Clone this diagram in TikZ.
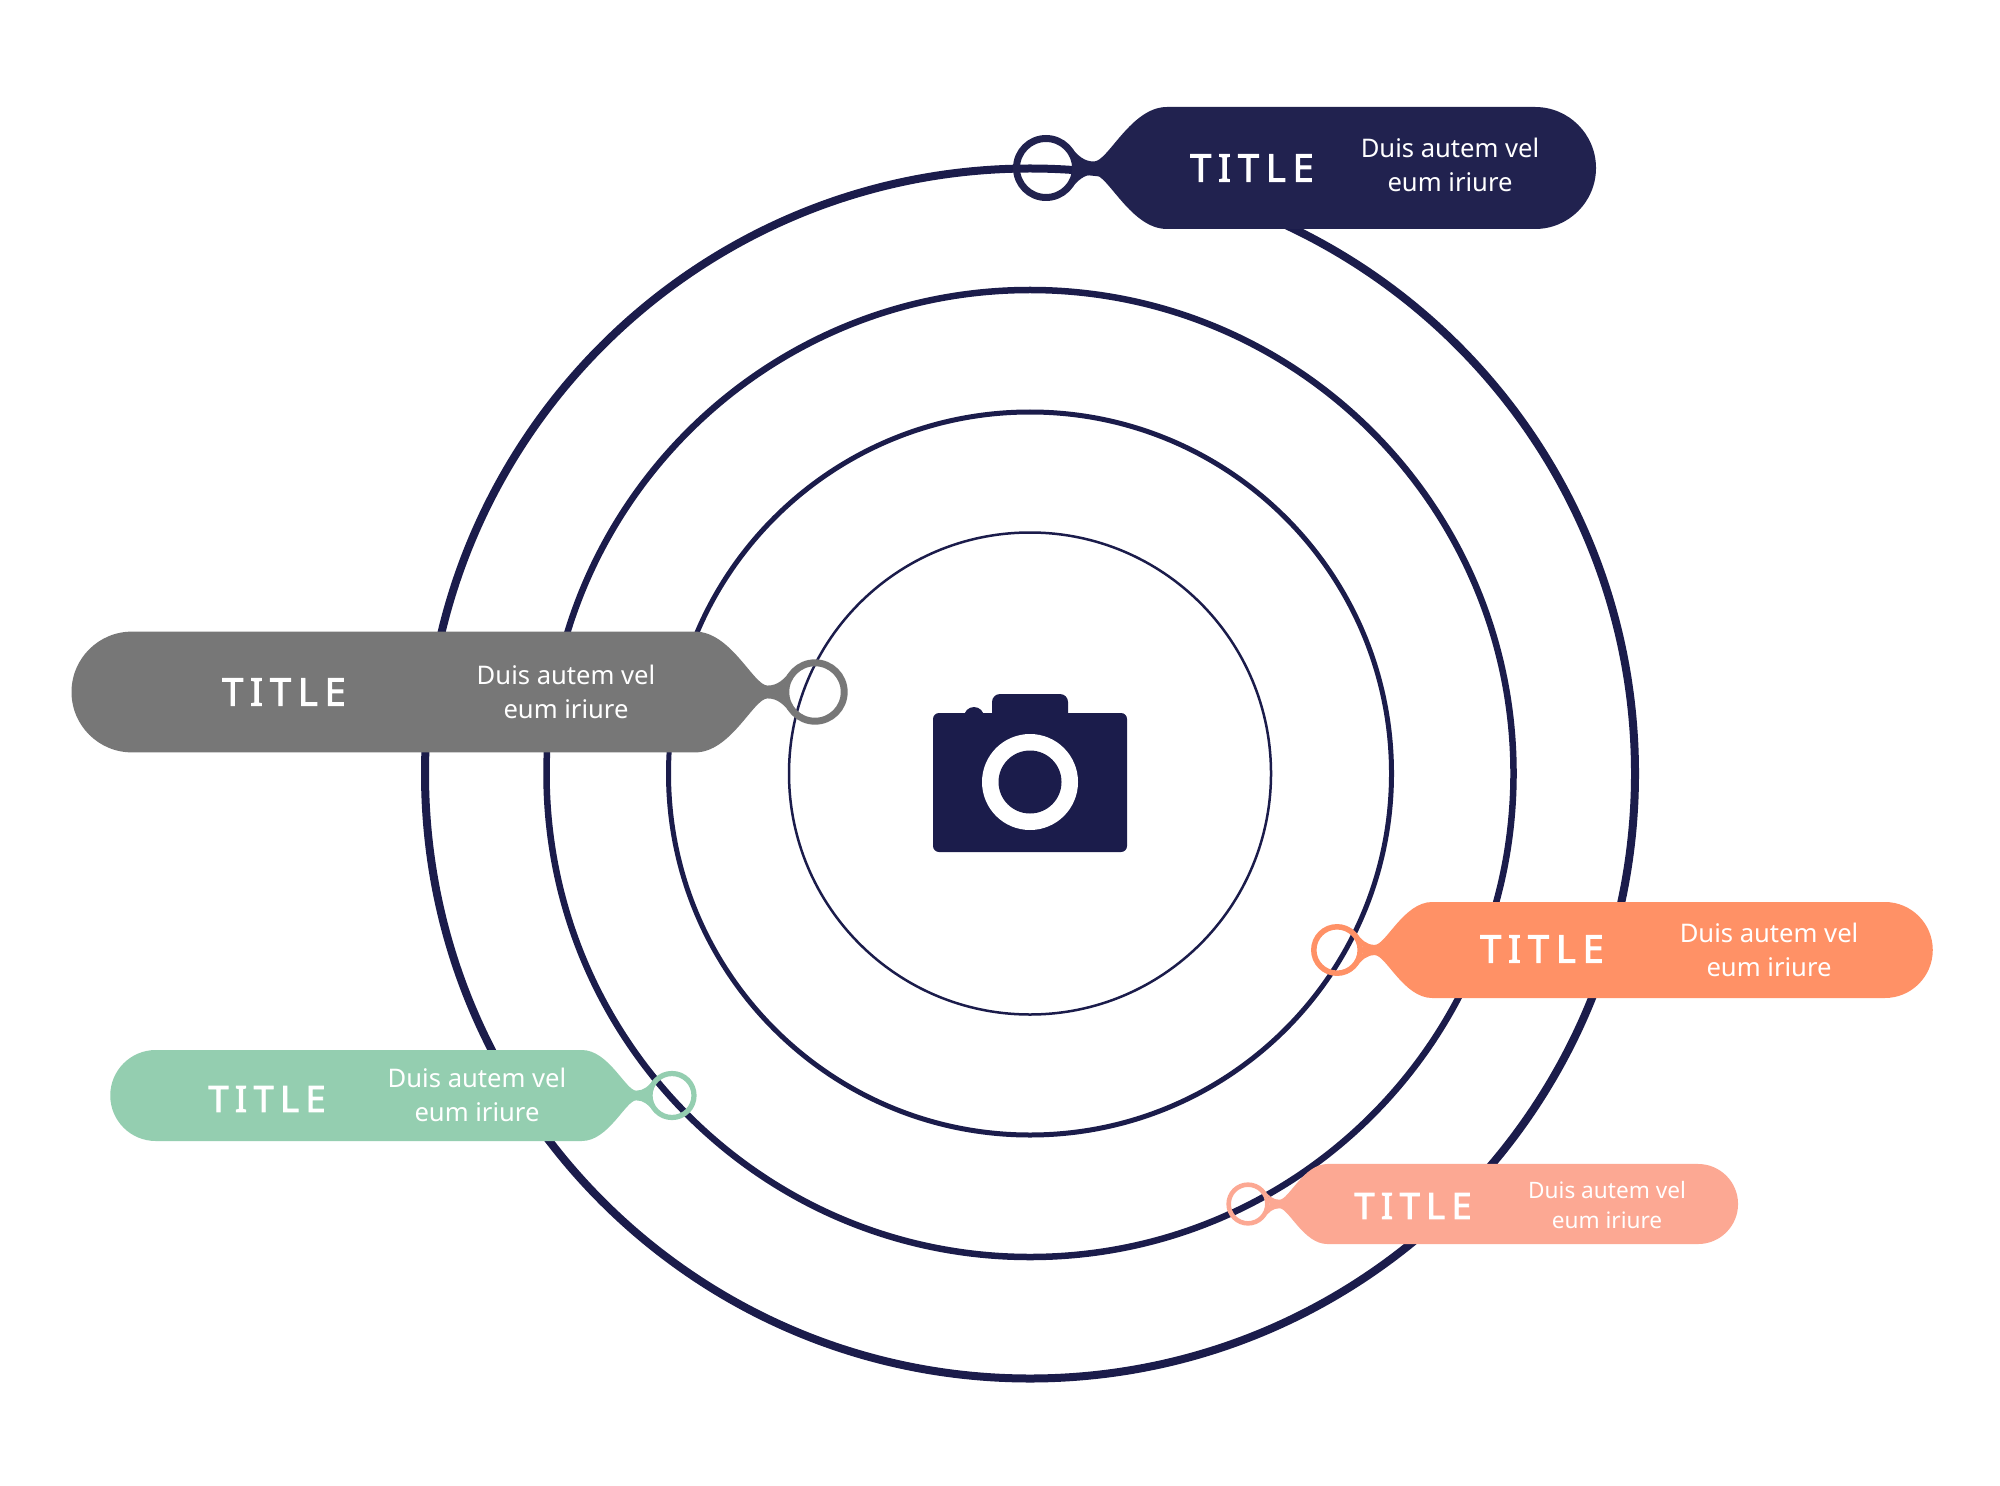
\documentclass[tikz,border=0pt]{standalone}
\usepackage{fontspec}
\setmainfont{Noto Sans}
\newfontfamily\titlefont[LetterSpace=18,FakeBold=2.5]{Noto Sans}
\usepackage{tikz}

\definecolor{navy}{HTML}{1B1C4B}
\definecolor{navytag}{HTML}{21224F}
\definecolor{greytag}{HTML}{777777}
\definecolor{orangetag}{HTML}{FF9166}
\definecolor{greentag}{HTML}{94CEB0}
\definecolor{salmontag}{HTML}{FCA893}

\begin{document}
\begin{tikzpicture}[x=0.5pt,y=-0.5pt,
    title/.style={text=white,font=\titlefont\fontsize{19}{19}\selectfont},
    small title/.style={title,font=\titlefont\fontsize{18}{18}\selectfont},
    desc/.style={text=white,align=center,font=\fontsize{12.8}{17}\selectfont},
    small desc/.style={desc,font=\fontsize{11.3}{15}\selectfont}]
\fill[white] (0,0) rectangle (2000,1486);
\useasboundingbox (0,0) rectangle (2000,1486);

% orbits
\foreach \r/\w in {605/4,483.5/3.25,361.5/2.5,241/1.25}
    \draw[navy,line width=\w pt] (1030,773.5) circle [radius=\r];

% tags: ring centre, scale, direction, length, colour
\foreach \cx/\cy/\s/\d/\L/\col in {1046/168/1/1/550/navytag,
    815/692/0.99/-1/751/greytag, 1337/950/0.787/1/757/orangetag,
    672/1095.5/0.746/-1/753/greentag, 1248/1204/0.656/1/747/salmontag}
{
\begin{scope}[shift={(\cx,\cy)},xscale=\d*\s,yscale=\s]
\fill[\col] (24,-22) .. controls (32,-12) and (38,-6.5) .. (48,-6.5)
    .. controls (62,-6.5) and (85,-61) .. (121,-61) -- (\L-61,-61)
    arc [start angle=-90,end angle=90,radius=61] -- (121,61)
    .. controls (85,61) and (62,6.5) .. (48,6.5)
    .. controls (38,6.5) and (32,12) .. (24,22)
    arc [start angle=42.5,end angle=-42.5,radius=32.5] -- cycle;
\draw[\col,line width=\s*3.5pt] (0,0) circle [radius=29.5];
\end{scope}
}

% camera
\fill[navy,rounded corners=4pt] (992,694) rectangle (1068,725);
\fill[navy] (974,717) circle [radius=10];
\fill[navy,rounded corners=3pt] (933,713) rectangle (1127,852);
\fill[white] (1030,782) circle [radius=48];
\fill[navy] (1030,782) circle [radius=31.5];

% texts
\node[title] (t1) at (1252,168) {TITLE};
\node[desc] (d1) at (1450,165) {Duis autem vel\\eum iriure};
\node[title] (t2) at (284,692) {TITLE};
\node[desc] (d2) at (566,692) {Duis autem vel\\eum iriure};
\node[title] (t3) at (1542,949) {TITLE};
\node[desc] (d3) at (1769,950) {Duis autem vel\\eum iriure};
\node[small title] (t4) at (267,1099) {TITLE};
\node[desc] (d4) at (477,1095) {Duis autem vel\\eum iriure};
\node[small title] (t5) at (1413,1206) {TITLE};
\node[small desc] (d5) at (1607,1205) {Duis autem vel\\eum iriure};

\end{tikzpicture}
\end{document}
